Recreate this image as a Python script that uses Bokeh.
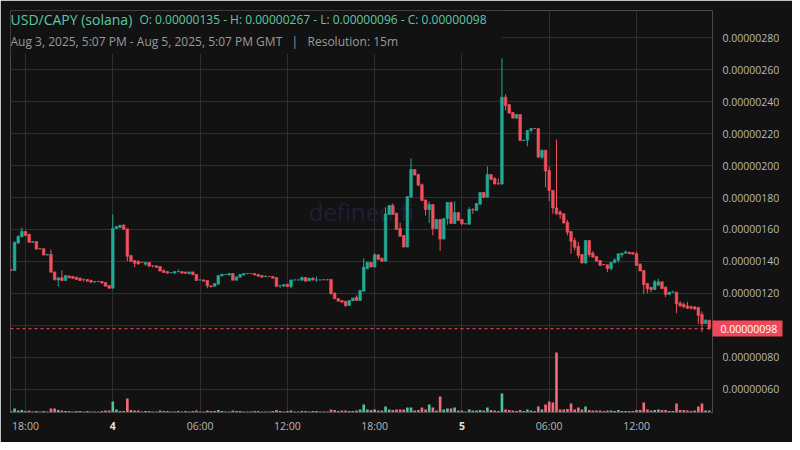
import datetime as dt
from bokeh.plotting import figure
from bokeh.models import (ColumnDataSource, Range1d, FixedTicker, PrintfTickFormatter,
                          Label, Span, BoxAnnotation, LinearAxis, DatetimeAxis)
from bokeh.embed import file_html
from bokeh.resources import INLINE

# ---------------- data (prices in units of 1e-8 USD) ----------------
first_bar = dt.datetime(2025, 8, 3, 17, 0)
bar_minutes = 15

opens = [135.0, 134.4, 151.5, 155.5, 158.8, 157.0, 152.0, 152.5, 148.0, 148.0,
         144.0, 144.4, 133.5, 128.5, 129.8, 128.1, 131.0, 130.6, 130.2, 129.6,
         128.9, 128.8, 128.3, 127.4, 127.6, 127.5, 126.9, 125.0, 123.3, 160.6,
         161.2, 162.7, 160.4, 143.8, 140.6, 140.0, 139.5, 138.3, 139.4, 137.4,
         137.3, 136.9, 134.4, 133.7, 133.0, 132.7, 133.6, 133.7, 133.5, 132.5,
         133.5, 131.9, 128.4, 128.5, 128.1, 124.8, 124.6, 125.8, 131.0, 131.8,
         131.5, 132.5, 128.3, 130.2, 131.5, 132.4, 132.4, 132.5, 131.9, 131.2,
         130.5, 130.7, 130.6, 130.0, 124.9, 124.6, 125.8, 124.4, 128.4, 128.4,
         128.3, 130.0, 127.9, 129.6, 128.4, 128.4, 128.6, 128.6, 128.8, 120.2,
         116.9, 115.6, 115.2, 112.5, 115.4, 117.5, 115.6, 121.5, 135.4, 139.4,
         136.5, 144.2, 142.0, 140.2, 169.4, 175.0, 170.2, 160.6, 156.3, 149.0,
         180.2, 197.5, 194.4, 188.0, 178.5, 172.5, 175.6, 160.6, 166.3, 154.0,
         166.9, 176.9, 163.8, 170.6, 166.3, 163.6, 163.3, 172.5, 171.9, 175.8,
         183.1, 180.2, 194.4, 191.9, 188.6, 188.4, 242.7, 238.1, 233.1, 229.6,
         231.9, 215.6, 215.8, 221.9, 223.2, 223.1, 205.2, 209.6, 196.9, 184.4,
         173.5, 171.0, 169.8, 164.4, 158.8, 153.1, 149.4, 144.4, 139.0, 153.1,
         145.2, 143.1, 140.6, 138.1, 137.9, 135.6, 139.4, 140.8, 144.2, 145.2,
         145.8, 145.6, 144.8, 138.5, 134.4, 126.3, 123.9, 122.5, 125.2, 127.3,
         123.9, 119.4, 120.8, 120.8, 113.9, 113.1, 112.3, 111.7, 111.7, 111.3,
         106.9, 101.2, 103.3]

highs = [135.4, 152.5, 156.5, 161.2, 159.2, 157.2, 152.6, 152.6, 148.1, 148.1,
         144.5, 147.5, 133.6, 129.9, 134.4, 131.3, 131.2, 130.8, 130.4, 130.0,
         129.0, 128.9, 128.4, 127.6, 127.7, 127.6, 127.0, 125.1, 169.4, 162.0,
         162.8, 163.3, 160.5, 143.9, 140.7, 140.8, 139.6, 139.5, 139.5, 137.5,
         137.4, 137.0, 135.0, 133.8, 133.2, 133.8, 135.0, 133.8, 133.6, 133.6,
         133.6, 132.0, 128.6, 128.6, 128.2, 124.9, 126.4, 131.3, 132.1, 132.0,
         132.6, 132.6, 130.5, 132.0, 132.6, 132.6, 132.6, 132.6, 132.0, 131.3,
         131.4, 130.8, 130.7, 130.1, 125.1, 125.7, 125.9, 128.6, 128.6, 128.6,
         130.6, 130.1, 129.7, 130.2, 130.6, 128.6, 128.7, 128.7, 128.9, 120.8,
         117.0, 115.7, 115.3, 115.7, 117.2, 118.8, 122.0, 142.0, 139.7, 139.5,
         145.0, 144.3, 142.4, 173.9, 175.1, 176.3, 170.3, 164.2, 156.4, 180.7,
         204.4, 197.6, 194.5, 188.8, 178.6, 177.5, 175.7, 166.4, 166.4, 167.0,
         177.0, 177.5, 177.5, 170.7, 166.4, 163.7, 173.9, 173.3, 176.4, 183.2,
         183.2, 199.4, 194.5, 192.8, 191.9, 267.0, 244.4, 238.2, 233.2, 232.0,
         232.0, 215.9, 222.0, 223.2, 223.3, 223.2, 210.2, 209.7, 199.4, 184.5,
         216.2, 172.0, 169.9, 166.0, 158.9, 154.8, 152.0, 144.5, 153.5, 153.2,
         146.5, 143.6, 140.7, 138.2, 138.0, 139.5, 142.0, 144.9, 145.3, 146.9,
         145.9, 145.7, 146.0, 138.6, 134.5, 126.4, 124.0, 128.3, 129.2, 127.4,
         124.5, 120.9, 121.7, 120.9, 115.2, 114.4, 114.8, 112.3, 111.8, 111.4,
         108.8, 103.9, 103.4]

lows = [134.2, 134.2, 151.0, 155.0, 156.0, 151.5, 151.9, 147.5, 147.6, 143.9,
        143.9, 133.2, 128.0, 124.4, 128.0, 128.0, 129.7, 129.3, 128.7, 128.0,
        127.3, 127.6, 126.9, 126.4, 127.4, 126.4, 124.5, 123.2, 123.2, 160.5,
        161.1, 160.0, 140.2, 139.9, 136.5, 138.0, 139.2, 137.5, 136.9, 136.2,
        136.2, 133.9, 133.0, 132.6, 132.9, 132.6, 133.5, 132.6, 132.4, 131.8,
        131.6, 128.0, 128.3, 127.6, 123.3, 123.8, 124.5, 125.7, 130.9, 131.7,
        131.4, 128.2, 128.2, 130.1, 131.4, 132.3, 132.3, 131.4, 130.7, 130.1,
        130.4, 130.5, 129.5, 124.3, 123.5, 124.5, 124.0, 123.2, 128.3, 128.3,
        128.2, 127.6, 127.8, 128.0, 127.2, 128.3, 128.4, 128.4, 119.2, 116.6,
        115.1, 114.0, 111.5, 112.4, 115.3, 115.5, 115.5, 121.0, 135.3, 136.4,
        136.4, 141.2, 140.1, 140.1, 169.3, 169.3, 159.9, 155.7, 148.9, 148.9,
        180.1, 193.9, 187.6, 178.0, 168.8, 164.0, 156.3, 160.5, 146.5, 153.9,
        163.0, 163.7, 163.7, 165.5, 162.7, 163.3, 163.2, 169.8, 171.8, 175.7,
        179.9, 180.1, 191.2, 188.3, 188.2, 188.0, 234.4, 232.6, 229.5, 229.5,
        215.5, 215.5, 212.0, 220.8, 223.0, 205.1, 204.0, 186.5, 177.7, 169.8,
        169.0, 166.5, 163.9, 156.3, 144.8, 146.9, 141.9, 138.9, 138.9, 142.7,
        142.6, 140.1, 137.4, 137.8, 133.3, 134.4, 138.8, 139.2, 142.5, 145.1,
        144.7, 144.5, 137.4, 133.9, 119.8, 120.2, 120.8, 122.0, 125.0, 122.9,
        117.7, 119.3, 120.7, 107.7, 112.0, 110.8, 110.2, 110.0, 110.1, 101.0,
        96.0, 101.1, 97.2]

closes = [134.4, 152.0, 155.6, 158.8, 156.3, 152.0, 152.5, 147.7, 147.8, 144.0,
          144.4, 133.3, 128.7, 129.8, 128.1, 131.2, 129.8, 129.4, 128.8, 128.1,
          128.8, 127.7, 127.0, 127.5, 127.5, 126.5, 124.6, 123.3, 160.6, 161.9,
          162.7, 160.1, 143.3, 140.0, 138.9, 138.5, 139.4, 139.4, 137.0, 137.3,
          136.3, 134.0, 133.1, 132.7, 133.1, 133.7, 133.7, 132.7, 132.5, 133.5,
          131.7, 128.1, 128.5, 127.7, 124.8, 124.2, 126.3, 131.2, 132.0, 131.9,
          132.5, 128.3, 130.4, 131.9, 132.5, 132.5, 132.5, 131.5, 130.8, 130.2,
          130.6, 130.6, 129.6, 124.4, 125.0, 125.6, 124.4, 128.5, 128.5, 128.5,
          130.0, 127.7, 129.6, 128.5, 128.5, 128.5, 128.5, 128.5, 119.8, 116.7,
          115.2, 114.6, 112.5, 115.6, 117.1, 115.6, 121.9, 136.5, 139.6, 136.5,
          144.2, 141.3, 140.2, 169.8, 175.0, 169.4, 160.0, 155.8, 149.0, 180.6,
          197.5, 194.0, 187.7, 178.1, 172.5, 175.6, 160.6, 166.3, 154.0, 166.9,
          176.9, 163.8, 170.6, 165.6, 163.5, 163.5, 172.5, 172.3, 176.3, 183.1,
          180.0, 194.4, 191.3, 188.4, 188.4, 242.7, 237.5, 232.7, 229.6, 231.9,
          215.6, 215.8, 221.9, 223.1, 223.1, 205.2, 209.4, 196.6, 184.4, 173.5,
          170.0, 169.4, 164.0, 158.3, 152.7, 148.9, 143.8, 139.0, 153.1, 144.4,
          142.7, 140.2, 137.5, 137.9, 135.6, 139.4, 141.0, 144.8, 145.2, 146.0,
          144.8, 144.6, 137.5, 134.0, 125.6, 123.0, 122.5, 127.3, 127.3, 123.0,
          119.4, 120.8, 121.0, 113.5, 112.1, 111.7, 110.8, 110.8, 110.2, 106.3,
          101.0, 103.3, 98.0]

volumes = [150, 400, 200, 250, 150, 200, 100, 150, 100, 150,
           100, 400, 400, 250, 200, 150, 150, 100, 150, 150,
           100, 150, 100, 100, 100, 150, 200, 200, 1100, 300,
           150, 150, 1400, 250, 200, 200, 100, 150, 150, 100,
           100, 200, 150, 150, 100, 100, 150, 100, 150, 100,
           150, 200, 100, 100, 200, 150, 150, 250, 150, 100,
           100, 200, 150, 150, 100, 100, 100, 150, 150, 100,
           100, 100, 150, 250, 150, 100, 150, 200, 100, 100,
           150, 150, 100, 150, 150, 100, 100, 100, 300, 250,
           150, 200, 200, 150, 150, 200, 300, 800, 300, 250,
           300, 200, 200, 600, 300, 250, 300, 300, 300, 500,
           500, 200, 250, 500, 300, 800, 500, 200, 1600, 300,
           400, 400, 500, 200, 200, 100, 300, 200, 200, 250,
           200, 500, 250, 200, 150, 1900, 300, 250, 200, 150,
           250, 150, 300, 200, 150, 600, 300, 800, 1100, 1000,
           6000, 300, 300, 350, 900, 300, 500, 300, 600, 250,
           200, 200, 200, 150, 200, 200, 150, 250, 150, 150,
           150, 150, 250, 250, 1000, 300, 200, 250, 300, 250,
           250, 150, 150, 900, 250, 250, 200, 150, 200, 600,
           900, 200, 200]

y_ticks = [60, 80, 100, 120, 140, 160, 180, 200, 220, 240, 260, 280]
x_tick_times = [dt.datetime(2025, 8, 3, 18), dt.datetime(2025, 8, 4, 0), dt.datetime(2025, 8, 4, 6),
                dt.datetime(2025, 8, 4, 12), dt.datetime(2025, 8, 4, 18), dt.datetime(2025, 8, 5, 0),
                dt.datetime(2025, 8, 5, 6), dt.datetime(2025, 8, 5, 12)]
x_tick_labels = ["18:00", "4", "06:00", "12:00", "18:00", "5", "06:00", "12:00"]
title_pair = "USD/CAPY (solana)"
title_ohlc = "O: 0.00000135 - H: 0.00000267 - L: 0.00000096 - C: 0.00000098"
subtitle = "Aug 3, 2025, 5:07 PM - Aug 5, 2025, 5:07 PM GMT\u00a0\u00a0\u00a0|\u00a0\u00a0\u00a0Resolution: 15m"

# ---------------- styling ----------------
BG = "#121212"
GRID = "#2f2f2f"
UP = "#22ab94"
DOWN = "#f2505d"
UP_VOL = "#4cc4a0"
DOWN_VOL = "#f26b7b"
TAG = "#f0485a"
TXT = "#b8b8b8"
FONT = "Open Sans"
SCALE = 1e-8
FRAME_W, FRAME_H = 702, 402


def ms(d):
    return (d - dt.datetime(1970, 1, 1)).total_seconds() * 1000.0


bar_ms = bar_minutes * 60 * 1000
t = [ms(first_bar) + i * bar_ms for i in range(len(opens))]
up = [c >= o for o, c in zip(opens, closes)]
src = ColumnDataSource(dict(
    t=t,
    h=[v * SCALE for v in highs],
    l=[v * SCALE for v in lows],
    top=[max(o, c) * SCALE for o, c in zip(opens, closes)],
    bot=[min(o, c) * SCALE for o, c in zip(opens, closes)],
    color=[UP if u else DOWN for u in up],
    vcolor=[UP_VOL if u else DOWN_VOL for u in up],
    vol=volumes,
))

x_start = ms(dt.datetime(2025, 8, 3, 16, 58, 6))
x_end = ms(dt.datetime(2025, 8, 5, 17, 13, 24))
y_start, y_end = 45.6 * SCALE, 296.9 * SCALE
last_price = closes[-1] * SCALE

p = figure(width=10 + FRAME_W + 80, height=10 + FRAME_H + 30, x_axis_type="datetime",
           y_axis_location="right",
           x_range=Range1d(x_start, x_end), y_range=Range1d(y_start, y_end),
           output_backend="svg", toolbar_location=None,
           background_fill_color=BG, border_fill_color=BG, outline_line_color=None,
           min_border_left=10, min_border_right=80, min_border_top=10, min_border_bottom=30)
p.extra_y_ranges = {"vol": Range1d(0, 40200)}

# grid
p.xgrid.ticker = FixedTicker(ticks=[ms(d) for d in x_tick_times])
p.ygrid.ticker = FixedTicker(ticks=[v * SCALE for v in y_ticks])
p.xgrid.grid_line_color = GRID
p.ygrid.grid_line_color = GRID


def plain_axis(ax, standoff, color=TXT):
    ax.major_tick_in = 0
    ax.major_tick_out = 0
    ax.minor_tick_in = 0
    ax.minor_tick_out = 0
    ax.major_tick_line_color = None
    ax.minor_tick_line_color = None
    ax.major_label_standoff = standoff
    ax.major_label_text_color = color
    ax.major_label_text_font = FONT
    ax.major_label_text_font_size = "10.5px"


# y axis (right)
ya = p.yaxis[0]
ya.ticker = FixedTicker(ticks=[v * SCALE for v in y_ticks if v != 100])
ya.formatter = PrintfTickFormatter(format="%.8f")
ya.axis_line_color = "#4a4a4a"
plain_axis(ya, 10)

# last-price tag: a second right axis whose single thick tick forms the red box
tag_axis = LinearAxis(ticker=FixedTicker(ticks=[last_price]),
                      formatter=PrintfTickFormatter(format="%.8f"))
tag_axis.axis_line_color = None
plain_axis(tag_axis, -62, "#ffffff")
tag_axis.major_tick_in = 70
tag_axis.major_tick_out = 0
tag_axis.major_tick_line_color = TAG
tag_axis.major_tick_line_width = 16
p.add_layout(tag_axis, "right")

# x axis
xa = p.xaxis[0]
xa.ticker = FixedTicker(ticks=[ms(d) for d in x_tick_times])
xa.major_label_overrides = {ms(d): ("" if lab.isdigit() else lab) for d, lab in zip(x_tick_times, x_tick_labels)}
xa.axis_line_color = "#4a4a4a"
plain_axis(xa, 6)

# day numbers in bold, on a second time axis drawn over the same row
day_ticks = [ms(d) for d, lab in zip(x_tick_times, x_tick_labels) if lab.isdigit()]
day_axis = DatetimeAxis(ticker=FixedTicker(ticks=day_ticks))
day_axis.major_label_overrides = {ms(d): lab for d, lab in zip(x_tick_times, x_tick_labels) if lab.isdigit()}
day_axis.axis_line_color = None
plain_axis(day_axis, -14, "#e0e0e0")
day_axis.major_label_text_font_style = "bold"
p.add_layout(day_axis, "below")

# watermark
p.add_layout(Label(x=(x_start + x_end) / 2, y=(y_start + y_end) / 2, text="defined.fi",
                   text_align="center", text_baseline="middle", text_color="#1f1f38",
                   text_font=FONT, text_font_size="24px", level="underlay"))

# volume
p.vbar(x="t", width=bar_ms * 0.72, top="vol", bottom=0, source=src, y_range_name="vol",
       fill_color="vcolor", line_color=None)

# candles
p.segment(x0="t", y0="l", x1="t", y1="h", source=src, line_color="color", line_width=1)
p.vbar(x="t", width=bar_ms * 0.72, top="top", bottom="bot", source=src,
       fill_color="color", line_color="color", line_width=0.6)

# last price line
p.add_layout(Span(location=last_price, dimension="width", line_color=DOWN,
                  line_dash="3 3", line_width=1))

# title block
p.add_layout(BoxAnnotation(right=x_start + (x_end - x_start) * 0.70, bottom=270.0 * SCALE,
                           fill_color=BG, fill_alpha=1.0, line_color=None))
p.add_layout(Label(x=x_start, y=y_end, x_offset=0, y_offset=-9, text=title_pair,
                   text_align="left", text_baseline="middle", text_color="#5cc8a6",
                   text_font=FONT, text_font_size="14px"))
p.add_layout(Label(x=x_start, y=y_end, x_offset=129, y_offset=-9, text=title_ohlc,
                   text_align="left", text_baseline="middle", text_color="#5cc8a6",
                   text_font=FONT, text_font_size="12px"))
p.add_layout(Label(x=x_start, y=y_end, x_offset=0, y_offset=-31, text=subtitle,
                   text_align="left", text_baseline="middle", text_color="#9a9a9a",
                   text_font=FONT, text_font_size="12px"))

open("out.html", "w").write(file_html(p, INLINE))
